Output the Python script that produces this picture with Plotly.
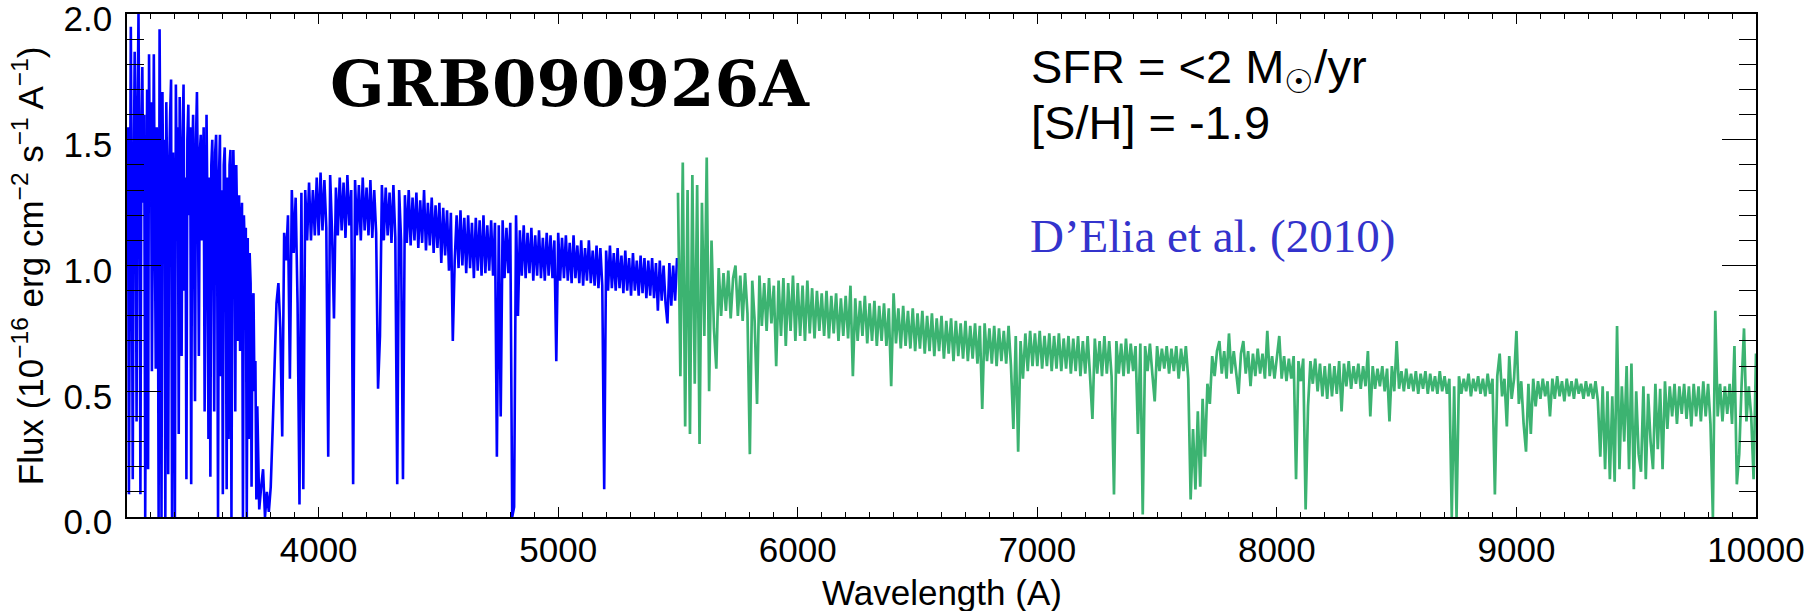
import numpy as np
import plotly.graph_objects as go

# ---- data (flux in 1e-16 erg/cm2/s/A) ----
# blue spectrum: Lyman-alpha forest sampled every 4 A from 3200 A
blue_flux_3200 = [
    1.35, 1.55, 0.09, 1.40, 1.95, 1.20, 0.15, 1.30, 1.85, 1.45,
    0.38, 1.60, 2.00, 1.35, 0.09, 1.50, 1.79, 1.25, 1.60, 0.00,
    1.10, 1.70, 0.19, 1.84, 1.30, 1.65, 0.58, 1.45, 1.84, 1.20,
    0.59, 1.55, 1.40, 0.00, 1.94, 1.25, 0.00, 1.69, 1.15, 1.50,
    0.00, 1.65, 1.30, 0.17, 1.35, 1.60, 1.74, 0.00, 1.45, 1.20,
    0.00, 1.72, 1.30, 1.55, 0.33, 1.67, 1.25, 0.64, 1.50, 1.72,
    0.90, 1.35, 0.15, 1.50, 1.64, 1.20, 1.55, 0.13, 1.40, 1.60,
    1.15, 0.46, 1.50, 1.69, 1.30, 0.64, 1.45, 1.52, 1.10, 1.40,
    1.55, 0.42, 1.30, 1.60, 1.20, 0.31, 1.35, 0.16, 1.40, 1.50,
    1.15, 0.42, 1.45, 1.52, 1.20, 0.00, 1.35, 1.52, 0.56, 1.30,
    0.09, 1.40, 1.47, 1.10, 0.11, 1.35, 0.31, 1.40, 1.46, 0.00,
    1.20, 1.46, 1.25, 0.42, 1.40, 1.15, 0.70, 1.28, 0.66, 1.15,
    1.25, 0.00, 1.20, 1.05, 1.15, 0.00, 1.11, 0.31, 1.05, 0.93,
    0.12, 0.85, 0.89, 0.50, 0.62, 0.07,
]
# damped Lyman-alpha trough and recovery, every 8 A from 3744 A
blue_flux_3744 = [
    0.44, 0.03, 0.12, 0.19, 0.00, 0.10, 0.02, 0.12, 0.35, 0.62,
    0.85, 0.93, 0.75, 0.32, 1.13, 1.02, 1.20, 0.55, 1.30, 1.05,
    1.27, 0.85, 0.05, 1.29, 0.11, 1.30, 1.10, 1.33, 1.10, 1.30,
    1.12, 1.35,
]
# continuum, every 8 A
blue_flux_4000 = [
    1.12, 1.37, 1.14, 1.34, 1.15, 0.24, 1.36, 1.13, 0.79, 1.31,
    1.12, 1.35, 1.14, 1.33, 1.11, 1.36, 1.16, 1.30, 0.13, 1.34,
    1.12, 1.32, 1.10, 1.35, 1.14, 1.31, 1.12, 1.34, 1.11, 1.30,
    1.13, 0.51, 0.72, 1.32, 1.10, 1.31, 1.12, 1.29, 1.09, 1.32,
    1.11, 0.13, 1.30, 1.10, 0.15, 1.28, 1.09, 1.30, 1.08, 1.27,
    1.10, 1.29, 1.07, 1.26, 1.09, 1.30, 1.06, 1.25, 1.08, 1.27,
    1.05, 1.24, 1.07, 1.25, 1.01, 1.23, 1.04, 1.22, 0.98, 1.21,
    0.70, 1.02, 1.20, 0.99, 1.22, 1.00, 1.19, 0.97, 1.20, 0.99,
    1.17, 0.95, 1.19, 0.98, 1.18, 0.96, 1.20, 0.97, 1.16, 0.98,
    1.18, 0.96, 1.17, 0.24, 1.16, 0.40, 1.18, 0.95, 1.15, 0.97,
]
blue_flux_4800 = [
    1.17, 0.00, 0.04, 1.20, 0.80, 1.14, 0.96, 1.16, 0.95, 1.13,
    0.97, 1.15, 0.94, 1.12, 0.96, 1.14, 0.95, 1.11, 0.94, 1.13,
    0.96, 1.12, 0.95, 1.10, 0.62, 1.13, 0.94, 1.11, 0.95, 1.12,
    0.94, 1.09, 0.93, 1.12, 0.95, 1.08, 0.93, 1.10, 0.92, 1.07,
    0.94, 1.10, 0.93, 1.06, 0.92, 1.08, 0.91, 1.07, 0.92, 0.11,
    1.06, 0.90, 1.08, 0.91, 1.05, 0.90, 1.07, 0.91, 1.04, 0.89,
    1.06, 0.90, 1.03, 0.88, 1.05, 0.90, 1.02, 0.88, 1.04, 0.89,
    1.03, 0.87, 1.02, 0.88, 1.03, 0.87, 1.01, 0.82, 1.02, 0.86,
    1.00, 0.85, 0.77, 1.01, 0.84, 1.00, 0.86, 1.03,
]

# green spectrum, sampled every 10 A
green_flux_5500 = [
    1.29, 0.56, 1.41, 0.36, 1.30, 0.33, 1.36, 0.53, 1.32, 0.29,
    1.25, 0.72, 1.43, 0.50, 1.10, 0.75, 0.59, 0.99, 0.80, 0.97,
    0.82, 0.98, 0.79, 0.95, 1.00, 0.80, 0.96, 0.78, 0.97, 0.81,
    0.25, 0.94, 0.78, 0.45, 0.96, 0.76, 0.93, 0.74, 0.95, 0.77,
    0.92, 0.60, 0.94, 0.72, 0.95, 0.68, 0.93, 0.74, 0.96, 0.70,
]
green_flux_6000 = [
    0.93, 0.72, 0.92, 0.70, 0.94, 0.73, 0.91, 0.71, 0.90, 0.74,
    0.89, 0.72, 0.90, 0.71, 0.88, 0.73, 0.89, 0.70, 0.87, 0.72,
    0.88, 0.71, 0.92, 0.56, 0.87, 0.70, 0.86, 0.72, 0.88, 0.69,
    0.85, 0.70, 0.86, 0.68, 0.84, 0.70, 0.85, 0.68, 0.83, 0.52,
    0.89, 0.69, 0.83, 0.67, 0.84, 0.68, 0.82, 0.67, 0.83, 0.66,
]
green_flux_6500 = [
    0.81, 0.67, 0.82, 0.65, 0.80, 0.66, 0.81, 0.64, 0.79, 0.66,
    0.80, 0.63, 0.78, 0.65, 0.79, 0.62, 0.78, 0.64, 0.77, 0.63,
    0.78, 0.62, 0.76, 0.63, 0.77, 0.61, 0.76, 0.43, 0.77, 0.62,
    0.75, 0.61, 0.76, 0.60, 0.75, 0.62, 0.74, 0.61, 0.76, 0.60,
    0.35, 0.72, 0.26, 0.70, 0.55, 0.73, 0.58, 0.74, 0.60, 0.73,
]
green_flux_7000 = [
    0.60, 0.74, 0.59, 0.72, 0.60, 0.73, 0.58, 0.72, 0.59, 0.73,
    0.58, 0.71, 0.59, 0.72, 0.57, 0.71, 0.58, 0.72, 0.56, 0.70,
    0.57, 0.72, 0.56, 0.39, 0.71, 0.57, 0.70, 0.56, 0.72, 0.57,
    0.70, 0.56, 0.09, 0.70, 0.57, 0.69, 0.56, 0.71, 0.57, 0.69,
    0.58, 0.68, 0.33, 0.69, 0.01, 0.68, 0.58, 0.69, 0.57, 0.46,
]
green_flux_7500 = [
    0.68, 0.58, 0.67, 0.59, 0.68, 0.57, 0.67, 0.58, 0.68, 0.55,
    0.67, 0.58, 0.68, 0.55, 0.07, 0.35, 0.11, 0.42, 0.12, 0.47,
    0.24, 0.53, 0.45, 0.64, 0.56, 0.66, 0.70, 0.57, 0.66, 0.55,
    0.73, 0.57, 0.66, 0.56, 0.49, 0.65, 0.70, 0.57, 0.66, 0.52,
    0.65, 0.56, 0.67, 0.57, 0.65, 0.55, 0.74, 0.56, 0.64, 0.55,
]
green_flux_8000 = [
    0.65, 0.72, 0.55, 0.64, 0.54, 0.63, 0.55, 0.64, 0.15, 0.62,
    0.54, 0.63, 0.03, 0.44, 0.62, 0.53, 0.63, 0.50, 0.61, 0.48,
    0.60, 0.47, 0.61, 0.48, 0.60, 0.49, 0.62, 0.42, 0.61, 0.52,
    0.62, 0.51, 0.60, 0.53, 0.61, 0.51, 0.60, 0.52, 0.66, 0.40,
    0.60, 0.51, 0.59, 0.52, 0.60, 0.50, 0.59, 0.38, 0.60, 0.50,
]
green_flux_8500 = [
    0.70, 0.51, 0.58, 0.50, 0.59, 0.51, 0.57, 0.50, 0.58, 0.49,
    0.57, 0.51, 0.58, 0.49, 0.57, 0.50, 0.56, 0.49, 0.58, 0.50,
    0.56, 0.49, 0.55, 0.00, 0.52, 0.00, 0.56, 0.49, 0.55, 0.50,
    0.57, 0.48, 0.55, 0.50, 0.56, 0.49, 0.55, 0.48, 0.57, 0.49,
    0.55, 0.09, 0.56, 0.65, 0.48, 0.55, 0.36, 0.64, 0.47, 0.55,
]
green_flux_9000 = [
    0.74, 0.45, 0.54, 0.37, 0.26, 0.53, 0.33, 0.55, 0.44, 0.54,
    0.47, 0.55, 0.48, 0.54, 0.40, 0.55, 0.47, 0.56, 0.48, 0.54,
    0.46, 0.55, 0.48, 0.54, 0.47, 0.55, 0.49, 0.53, 0.47, 0.54,
    0.48, 0.53, 0.47, 0.54, 0.46, 0.24, 0.52, 0.19, 0.50, 0.15,
    0.48, 0.14, 0.76, 0.19, 0.52, 0.30, 0.60, 0.19, 0.61, 0.11,
]
green_flux_9500 = [
    0.50, 0.25, 0.18, 0.52, 0.15, 0.49, 0.30, 0.19, 0.53, 0.27,
    0.51, 0.19, 0.54, 0.35, 0.52, 0.40, 0.53, 0.37, 0.52, 0.41,
    0.53, 0.39, 0.52, 0.36, 0.53, 0.40, 0.52, 0.38, 0.54, 0.40,
    0.53, 0.37, 0.00, 0.82, 0.40, 0.53, 0.38, 0.52, 0.41, 0.53,
    0.37, 0.68, 0.13, 0.25, 0.53, 0.75, 0.38, 0.52, 0.40, 0.15,
    0.65,
]

# (start wavelength, sampling step, flux values)
blue_segments = [(3200, 4, blue_flux_3200), (3744, 8, blue_flux_3744),
                 (4000, 8, blue_flux_4000), (4800, 8, blue_flux_4800)]
green_segments = [(5500, 10, green_flux_5500), (6000, 10, green_flux_6000),
                  (6500, 10, green_flux_6500), (7000, 10, green_flux_7000),
                  (7500, 10, green_flux_7500), (8000, 10, green_flux_8000),
                  (8500, 10, green_flux_8500), (9000, 10, green_flux_9000),
                  (9500, 10, green_flux_9500)]

x_range = [3200, 10000]
y_range = [0.0, 2.0005]
y_tickvals = [0.0, 0.5, 1.0, 1.5, 2.0]
x_tickvals = [4000, 5000, 6000, 7000, 8000, 9000, 10000]


def build(segments):
    wl, fl = [], []
    for start, step, vals in segments:
        wl.extend((start + step * np.arange(len(vals))).tolist())
        fl.extend(vals)
    return wl, fl


blue_wl, blue_fl = build(blue_segments)
green_wl, green_fl = build(green_segments)

fig = go.Figure()
fig.add_trace(go.Scatter(x=blue_wl, y=blue_fl, mode="lines",
                         line=dict(color="#0000FF", width=2.6), showlegend=False))
fig.add_trace(go.Scatter(x=green_wl, y=green_fl, mode="lines",
                         line=dict(color="#3CB371", width=2.7), showlegend=False))

axis_font = dict(family="Liberation Sans, Arial, sans-serif", size=35, color="black")

fig.update_layout(
    width=1812, height=611,
    margin=dict(l=127, r=56, t=14, b=94, autoexpand=False),
    paper_bgcolor="white", plot_bgcolor="white",
    font=axis_font,
)
fig.update_xaxes(
    range=x_range, showgrid=False, zeroline=False, automargin=False,
    showline=True, linecolor="black", linewidth=1.5, mirror="ticks",
    ticks="inside", ticklen=10, tickwidth=1.2, tickcolor="black",
    tickmode="array", tickvals=x_tickvals, tickformat="d",
    tickfont=axis_font, ticklabelstandoff=1,
    minor=dict(ticks="inside", ticklen=5, tickwidth=1.2, tickcolor="black", dtick=100, tick0=0),
)
fig.update_yaxes(
    range=y_range, showgrid=False, zeroline=False, automargin=False,
    showline=True, linecolor="black", linewidth=1.5, mirror="ticks",
    ticks="inside", ticklen=34, tickwidth=1.2, tickcolor="black",
    tickmode="array", tickvals=y_tickvals, tickformat=".1f",
    tickfont=axis_font, ticklabelstandoff=6, ticklabelshift=5,
    ticklabeloverflow="allow",
    minor=dict(ticks="inside", ticklen=17, tickwidth=1.2, tickcolor="black", dtick=0.1, tick0=0),
)

ann = []
ann.append(dict(text="<b>GRB090926A</b>", x=0.272, y=0.861, xref="paper", yref="paper",
                xanchor="center", yanchor="middle", showarrow=False,
                font=dict(family="DejaVu Serif", size=64, color="black")))
sans_big = dict(family="Liberation Sans, Arial, sans-serif", size=47, color="black")
ann.append(dict(text="SFR = <2 M<sub>☉</sub>/yr", x=0.5537, y=0.889, xref="paper", yref="paper",
                xanchor="left", yanchor="middle", showarrow=False, font=sans_big))
ann.append(dict(text="[S/H] = -1.9", x=0.5537, y=0.785, xref="paper", yref="paper",
                xanchor="left", yanchor="middle", showarrow=False, font=sans_big))
ann.append(dict(text="D’Elia et al. (2010)", x=0.553, y=0.558, xref="paper", yref="paper",
                xanchor="left", yanchor="middle", showarrow=False,
                font=dict(family="Liberation Serif, Times New Roman, serif", size=47, color="#3333CC")))
ann.append(dict(text="Wavelength (A)", x=0.5, y=-0.15, xref="paper", yref="paper",
                xanchor="center", yanchor="middle", showarrow=False, font=axis_font))
ann.append(dict(text="Flux (10<sup>−16</sup> erg cm<sup>−2</sup> s<sup>−1</sup> A<sup>−1</sup>)",
                x=-0.061, y=0.5, xref="paper", yref="paper", textangle=-90,
                xanchor="center", yanchor="middle", showarrow=False, font=axis_font))
fig.update_layout(annotations=ann)

fig.write_html("out.html")
